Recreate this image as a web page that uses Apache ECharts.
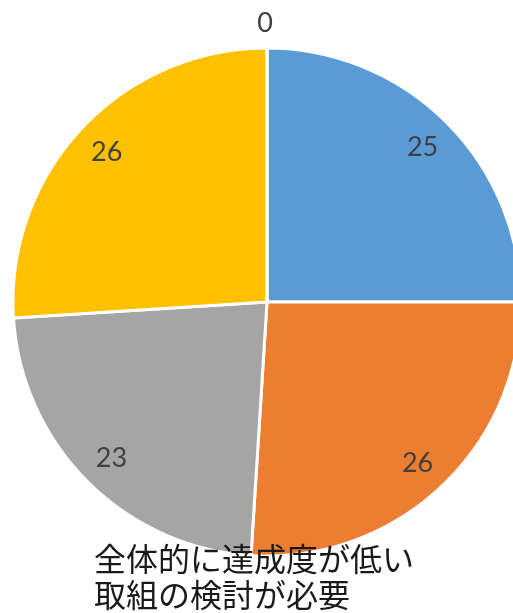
<!DOCTYPE html>
<html>
<head>
<meta charset="utf-8">
<script src="https://cdn.jsdelivr.net/npm/echarts@6/dist/echarts.min.js"></script>
<style>
  html, body { margin: 0; padding: 0; background: #fff; }
  #main { width: 513px; height: 613px; }
</style>
</head>
<body>
<div id="main"></div>
<script>
var categories = ['A', 'B', 'C', 'D', 'E'];
var values = [25, 26, 23, 26, 0];
var colors = ['#5B9BD5', '#ED7D31', '#A5A5A5', '#FFC000', '#4472C4'];
var noteLines = ['全体的に達成度が低い', '取組の検討が必要'];

var chart = echarts.init(document.getElementById('main'));

var pieData = categories.map(function (c, i) {
  return { name: c, value: values[i], itemStyle: { color: colors[i] } };
});

// label rings: transparent slices, labels centred in the band
function labelRing(radius, zeroOnly) {
  return {
    type: 'pie',
    center: [267, 302],
    radius: radius,
    startAngle: 90,
    clockwise: true,
    minAngle: 0,
    avoidLabelOverlap: false,
    silent: true,
    itemStyle: { color: 'transparent', borderWidth: 0 },
    label: {
      show: true,
      position: 'inside',
      formatter: '{c}',
      color: '#404040',
      fontSize: 27,
      fontFamily: 'Lato',
      offset: zeroOnly ? [-2, 0] : [0, 1]
    },
    labelLine: { show: false },
    data: categories.map(function (c, i) {
      var show = zeroOnly ? values[i] === 0 : values[i] !== 0;
      return { name: c, value: values[i], label: { show: show } };
    })
  };
}

var option = {
  animation: false,
  series: [
    {
      type: 'pie',
      center: [267, 302],
      radius: [0, 254],
      startAngle: 90,
      clockwise: true,
      minAngle: 0,
      label: { show: false },
      labelLine: { show: false },
      itemStyle: { borderColor: '#fff', borderWidth: 3 },
      emphasis: { disabled: true },
      data: pieData
    },
    labelRing([180, 254], false),
    labelRing([254, 297], true)
  ],
  graphic: [
    {
      type: 'text',
      left: 94,
      top: 541,
      z: 100,
      style: {
        text: noteLines.join('\n'),
        fill: '#1a1a1a',
        font: '32px "Noto Sans CJK JP"',
        lineHeight: 36
      }
    }
  ]
};

chart.setOption(option);
</script>
</body>
</html>
